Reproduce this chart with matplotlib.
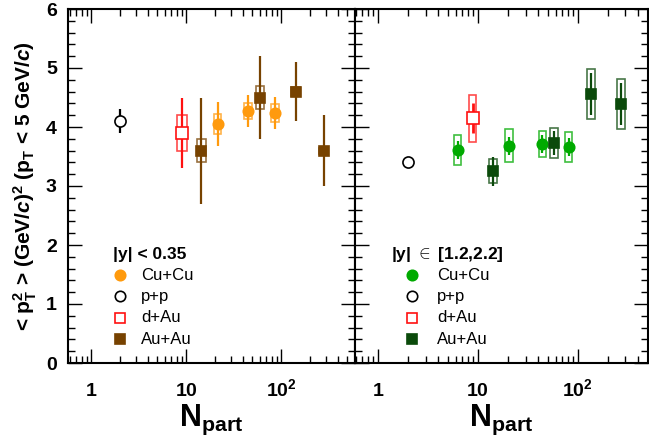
import matplotlib
matplotlib.use("Agg")
import matplotlib.pyplot as plt
import numpy as np
from matplotlib.patches import Rectangle
from matplotlib.ticker import LogLocator, FixedLocator, MultipleLocator, NullFormatter

plt.rcParams['font.family'] = ['Liberation Sans', 'DejaVu Sans']
plt.rcParams['mathtext.fontset'] = 'custom'
plt.rcParams['mathtext.rm'] = 'Liberation Sans:bold'
plt.rcParams['mathtext.bf'] = 'Liberation Sans:bold'
plt.rcParams['mathtext.it'] = 'Liberation Sans:bold:italic'
plt.rcParams['mathtext.sf'] = 'Liberation Sans:bold'

# ---------------- data: mid rapidity |y|<0.35 ----------------
mid_pp_N = [2.0];   mid_pp_y = [4.10];  mid_pp_stat = [0.20]; mid_pp_sys = [0.0]
mid_dAu_N = [9.1];  mid_dAu_y = [3.90]; mid_dAu_stat = [0.60]; mid_dAu_sys = [0.30]
mid_CuCu_N = [21.5, 45.0, 86.0]
mid_CuCu_y = [4.05, 4.27, 4.24]
mid_CuCu_stat = [0.38, 0.27, 0.27]
mid_CuCu_sys = [0.17, 0.14, 0.15]
mid_AuAu_N = [14.5, 60.0, 142.0, 280.0]
mid_AuAu_y = [3.60, 4.50, 4.60, 3.60]
mid_AuAu_stat = [0.90, 0.70, 0.50, 0.60]
mid_AuAu_sys = [0.20, 0.20, 0.08, 0.05]

# ---------------- data: forward rapidity |y| in [1.2,2.2] ----------------
fwd_pp_N = [2.0];   fwd_pp_y = [3.41];  fwd_pp_stat = [0.05]; fwd_pp_sys = [0.0]
fwd_dAu_N = [8.9];  fwd_dAu_y = [4.15]; fwd_dAu_stat = [0.25]; fwd_dAu_sys = [0.40]
fwd_CuCu_N = [6.3, 20.5, 44.0, 81.0]
fwd_CuCu_y = [3.61, 3.68, 3.71, 3.66]
fwd_CuCu_stat = [0.15, 0.15, 0.15, 0.15]
fwd_CuCu_sys = [0.26, 0.28, 0.22, 0.25]
fwd_AuAu_N = [14.1, 57.5, 135.0, 269.0]
fwd_AuAu_y = [3.25, 3.73, 4.56, 4.39]
fwd_AuAu_stat = [0.25, 0.20, 0.35, 0.35]
fwd_AuAu_sys = [0.20, 0.26, 0.42, 0.42]

ylim = (0, 6)
xlim_left = (0.573, 600)
xlim_right = (0.589, 505)
xtick_vals = [1, 10, 100]
xtick_labels = [r'$1$', r'$10$', r'$10^{2}$']

ORANGE = '#ff9a0d'
BROWN = '#774200'
RED = '#ff1010'
GREEN = '#00aa00'
DKGREEN = '#0b4a0b'

W, H = 649, 441
fig = plt.figure(figsize=(W / 100, H / 100), dpi=100)
ax1 = fig.add_axes([68 / W, 1 - 363 / H, (355 - 68) / W, (363 - 9) / H])
ax2 = fig.add_axes([355 / W, 1 - 363 / H, (648 - 355) / W, (363 - 9) / H])


def sysboxes(ax, N, y, sys, color, hw=0.04, lw=1.2, alpha=0.75):
    for n, v, s in zip(N, y, sys):
        if s <= 0:
            continue
        x0 = n * 10 ** (-hw)
        x1 = n * 10 ** (hw)
        ax.add_patch(Rectangle((x0, v - s), x1 - x0, 2 * s, fill=False,
                               edgecolor=color, lw=lw, alpha=alpha, zorder=2))


def series(ax, N, y, stat, sys, color, marker, mfc, ms, elw=1.6, hw=0.04):
    sysboxes(ax, N, y, sys, color, hw=hw)
    ax.errorbar(N, y, yerr=stat, fmt='none', ecolor=color, elinewidth=elw,
                capsize=0, zorder=3)
    ax.plot(N, y, linestyle='none', marker=marker, ms=ms, mfc=mfc,
            mec=color, mew=1.2, zorder=4)


# left panel
series(ax1, mid_pp_N, mid_pp_y, mid_pp_stat, mid_pp_sys, 'black', 'o', 'white', 8)
series(ax1, mid_dAu_N, mid_dAu_y, mid_dAu_stat, mid_dAu_sys, RED, 's', 'white', 8, hw=0.05)
series(ax1, mid_AuAu_N, mid_AuAu_y, mid_AuAu_stat, mid_AuAu_sys, BROWN, 's', BROWN, 7.5, hw=0.045)
series(ax1, mid_CuCu_N, mid_CuCu_y, mid_CuCu_stat, mid_CuCu_sys, ORANGE, 'o', ORANGE, 7.5, hw=0.04)

# right panel
series(ax2, fwd_pp_N, fwd_pp_y, fwd_pp_stat, fwd_pp_sys, 'black', 'o', 'white', 8)
series(ax2, fwd_dAu_N, fwd_dAu_y, fwd_dAu_stat, fwd_dAu_sys, RED, 's', 'white', 8, elw=2.0, hw=0.036)
series(ax2, fwd_CuCu_N, fwd_CuCu_y, fwd_CuCu_stat, fwd_CuCu_sys, GREEN, 'o', GREEN, 7.5, hw=0.036)
series(ax2, fwd_AuAu_N, fwd_AuAu_y, fwd_AuAu_stat, fwd_AuAu_sys, DKGREEN, 's', DKGREEN, 7.5, hw=0.04)

for ax, xl in ((ax1, xlim_left), (ax2, xlim_right)):
    ax.set_xscale('log')
    ax.set_xlim(*xl)
    ax.set_ylim(*ylim)
    ax.xaxis.set_major_locator(FixedLocator(xtick_vals))
    ax.set_xticklabels(xtick_labels)
    ax.xaxis.set_minor_locator(LogLocator(base=10, subs=np.arange(2, 10), numticks=20))
    ax.xaxis.set_minor_formatter(NullFormatter())
    ax.yaxis.set_major_locator(MultipleLocator(1))
    ax.yaxis.set_minor_locator(MultipleLocator(0.2))
    ax.tick_params(which='both', direction='in', top=True, right=True, width=1.0)
    ax.tick_params(which='major', length=10)
    ax.tick_params(which='minor', length=5)
    ax.tick_params(axis='x', which='major', pad=24, labelsize=14)
    ax.tick_params(axis='y', which='major', pad=8, labelsize=14)
    for lab in ax.get_xticklabels() + ax.get_yticklabels():
        lab.set_fontweight('bold')
    for lab in ax.get_xticklabels():
        lab.set_verticalalignment('baseline')
    for sp in ax.spines.values():
        sp.set_linewidth(1.5)
    ax.set_xlabel(r'$\mathrm{N}_{\mathrm{part}}$', fontsize=22, labelpad=2)

ax2.tick_params(axis='y', labelleft=False)

ax1.set_ylabel(r'< $\mathrm{p}_{\mathrm{T}}^{2}$ > (GeV/$c$)$^{2}$ (p$_{\mathrm{T}}$ < 5 GeV/$c$)',
               fontsize=15, fontweight='bold', labelpad=5)


def legend(ax, title, tx, mx, txx, ty, rows, entries):
    ax.text(tx, ty, title, transform=ax.transAxes, fontsize=12.5,
            fontweight='bold', va='center', ha='left')
    for (lab, color, marker, mfc), ry in zip(entries, rows):
        ax.plot([mx], [ry], transform=ax.transAxes, marker=marker, ms=7.5,
                mfc=mfc, mec=color, mew=1.2, linestyle='none', clip_on=False)
        ax.text(txx, ry, lab, transform=ax.transAxes, fontsize=12,
                va='center', ha='left')


rows_px = [275, 296, 318, 339]
rows = [(363 - r) / 354 for r in rows_px]
legend(ax1, '|y| < 0.35', (113 - 68) / 287, (120 - 68) / 287, (141 - 68) / 287,
       (363 - 255) / 354, rows,
       [('Cu+Cu', ORANGE, 'o', ORANGE), ('p+p', 'black', 'o', 'white'),
        ('d+Au', RED, 's', 'white'), ('Au+Au', BROWN, 's', BROWN)])
legend(ax2, r'|y| $\in$ [1.2,2.2]', (391 - 355) / 293, (412 - 355) / 293, (437 - 355) / 293,
       (363 - 255) / 354, rows,
       [('Cu+Cu', GREEN, 'o', GREEN), ('p+p', 'black', 'o', 'white'),
        ('d+Au', RED, 's', 'white'), ('Au+Au', DKGREEN, 's', DKGREEN)])

fig.savefig('out.png', dpi=100)
